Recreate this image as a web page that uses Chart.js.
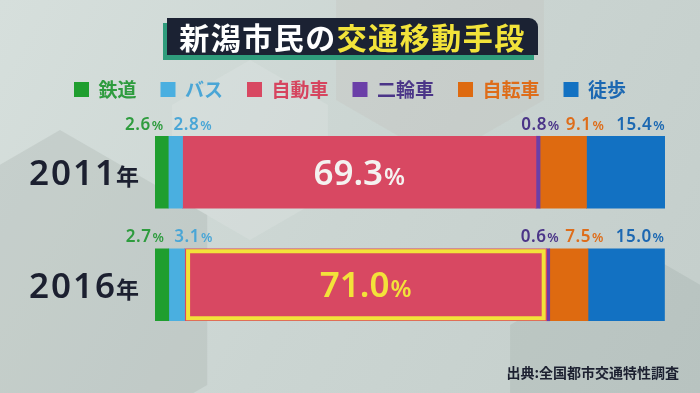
<!DOCTYPE html>
<html lang="ja">
<head>
<meta charset="utf-8">
<script src="https://cdn.jsdelivr.net/npm/chart.js@4.4.1/dist/chart.umd.min.js"></script>
<style>
  html, body { margin: 0; padding: 0; }
  body { width: 700px; height: 393px; overflow: hidden; background: #cbd5d2; font-family: "Noto Sans CJK JP", "Noto Sans", sans-serif; }
  #wrap { position: relative; width: 700px; height: 393px; }
  #chart { position: absolute; left: 0; top: 0; }
  .title {
    position: absolute; left: 167px; top: 18px; width: 371px; height: 37px;
    background: #1b2233; border-radius: 0 9px 0 0; box-shadow: -4px 5px 0 #2f9c7c;
    color: #fff; font-weight: 700; font-size: 30px; line-height: 37px; text-align: center; white-space: nowrap;
    letter-spacing: 1.5px;
  }
  .title span { color: #f2e33a; }
  .source { position: absolute; right: 21px; top: 362px; font-size: 14px; font-weight: 700; color: #1c2030; }
</style>
</head>
<body>
<div id="wrap">
  <canvas id="chart" width="700" height="393"></canvas>
  <div class="title">新潟市民の<span>交通移動手段</span></div>
  <div class="source">出典:全国都市交通特性調査</div>
</div>
<script>
const years = ['2011年', '2016年'];
const modes = ['鉄道', 'バス', '自動車', '二輪車', '自転車', '徒歩'];
const share2011 = [2.6, 2.8, 69.3, 0.8, 9.1, 15.4];
const share2016 = [2.7, 3.1, 71.0, 0.6, 7.5, 15.0];

const barColors = ['#1f9e2f', '#4aafe0', '#d84862', '#6b3fa8', '#de6a10', '#1271c2'];
const textColors = ['#2e9c3e', '#4aa6d6', '#d6455f', '#4b3588', '#de6d1a', '#1c68b2'];
const bigIndex = 2;       // 自動車 gets the big label inside the bar
const highlightYear = 1;  // 2016 car share framed in yellow

const chartNode = document.querySelector('#chart');

// light backdrop with a few soft hexagons
const backdrop = {
    id: 'backdrop',
    beforeDraw(chart) {
        const ctx = chart.ctx;
        ctx.save();
        const g = ctx.createLinearGradient(0, 0, 700, 393);
        g.addColorStop(0, '#d6dfdc');
        g.addColorStop(0.5, '#cbd5d2');
        g.addColorStop(1, '#c4cecb');
        ctx.fillStyle = g;
        ctx.fillRect(0, 0, 700, 393);
        const hex = (cx, cy, r, color) => {
            ctx.beginPath();
            for (let k = 0; k < 6; k++) {
                const a = Math.PI / 6 + k * Math.PI / 3;
                const px = cx + r * Math.cos(a), py = cy + r * Math.sin(a);
                k ? ctx.lineTo(px, py) : ctx.moveTo(px, py);
            }
            ctx.closePath();
            ctx.fillStyle = color;
            ctx.fill();
        };
        hex(60, 300, 170, 'rgba(150,160,157,0.22)');
        hex(440, 40, 120, 'rgba(190,180,170,0.18)');
        hex(640, 400, 150, 'rgba(140,155,150,0.2)');
        hex(250, 150, 90, 'rgba(255,255,255,0.12)');
        ctx.restore();
    }
};

// push the plot area a bit further below the legend
const legendGap = {
    id: 'legendGap',
    beforeInit(chart) {
        const fit = chart.legend.fit;
        chart.legend.fit = function () {
            fit.call(this);
            this.height += 7;
        };
    }
};

const pctWidth = (ctx, num, font, small) => {
    ctx.font = font;
    const a = ctx.measureText(num).width;
    ctx.font = small;
    return [a, ctx.measureText('%').width];
};

const drawPct = (ctx, num, left, base, font, small, color) => {
    const [a] = pctWidth(ctx, num, font, small);
    ctx.fillStyle = color;
    ctx.textAlign = 'left';
    ctx.textBaseline = 'alphabetic';
    ctx.font = font;
    ctx.fillText(num, left, base);
    ctx.font = small;
    ctx.fillText('%', left + a + 1, base);
};

const valueLabels = {
    id: 'valueLabels',
    afterDatasetsDraw(chart) {
        const ctx = chart.ctx;
        const sFont = '600 17px "Noto Sans", sans-serif';
        const sSmall = '600 13px "Noto Sans", sans-serif';
        const bFont = '600 35px "Noto Sans", sans-serif';
        const bSmall = '600 24px "Noto Sans", sans-serif';
        ctx.save();
        years.forEach((yr, j) => {
            const segs = chart.data.datasets.map((ds, i) => {
                const el = chart.getDatasetMeta(i).data[j];
                const p = el.getProps(['x', 'y', 'base', 'height'], true);
                return {
                    i, value: ds.data[j].toFixed(1),
                    start: Math.min(p.base, p.x), end: Math.max(p.base, p.x),
                    top: p.y - p.height / 2, bottom: p.y + p.height / 2, y: p.y
                };
            });
            const top = segs[0].top;
            const base = top - 6.5;

            // yellow frame
            if (j === highlightYear) {
                const s = segs[bigIndex];
                ctx.strokeStyle = '#f3e23a';
                ctx.lineWidth = 4;
                ctx.strokeRect(s.start + 3.5, s.top + 2.5, s.end - s.start - 6.5, s.bottom - s.top - 5);
            }

            // big label
            const s = segs[bigIndex];
            const [a, b] = pctWidth(ctx, s.value, bFont, bSmall);
            drawPct(ctx, s.value, (s.start + s.end) / 2 - (a + b + 1) / 2, s.y + 12.5,
                bFont, bSmall, j === highlightYear ? '#f3e23a' : '#f4f2f0');

            // small labels, a little spaced out
            ctx.letterSpacing = '0.5px';

            // left group: spread around the mean segment centre
            const left = segs.slice(0, bigIndex);
            const gap = 10;
            const widths = left.map(q => { const w = pctWidth(ctx, q.value, sFont, sSmall); return w[0] + w[1] + 1; });
            const mean = left.reduce((t, q) => t + (q.start + q.end) / 2, 0) / left.length;
            let x = mean - (widths.reduce((t, w) => t + w, 0) + gap * (left.length - 1)) / 2;
            left.forEach((q, k) => {
                drawPct(ctx, q.value, x, base, sFont, sSmall, textColors[q.i]);
                x += widths[k] + gap;
            });

            // right group: packed from the bar end
            const right = segs.slice(bigIndex + 1).reverse();
            let r = segs[segs.length - 1].end;
            right.forEach((q, k) => {
                const w = pctWidth(ctx, q.value, sFont, sSmall);
                const wt = w[0] + w[1] + 1;
                drawPct(ctx, q.value, r - wt, base, sFont, sSmall, textColors[q.i]);
                r -= wt + (k === 0 ? 12 : 6);
            });

            // year label
            const yl = chart.scales.y;
            const cy = yl.getPixelForValue(j);
            ctx.fillStyle = '#1c2030';
            ctx.textAlign = 'right';
            ctx.letterSpacing = '0px';
            ctx.font = '700 23px "Noto Sans CJK JP", sans-serif';
            ctx.fillText(yr.slice(-1), 139, cy + 13);
            ctx.letterSpacing = '2px';
            ctx.font = '600 35px "Noto Sans", sans-serif';
            ctx.fillText(yr.slice(0, -1), 117, cy + 13);
            ctx.letterSpacing = '0px';
        });
        ctx.restore();
    }
};

const chart = new Chart(chartNode, {
    type: 'bar',
    data: {
        labels: years,
        datasets: modes.map((m, i) => ({
            label: m,
            data: [share2011[i], share2016[i]],
            backgroundColor: barColors[i],
            borderWidth: 0,
            barThickness: 72
        }))
    },
    options: {
        indexAxis: 'y',
        responsive: false,
        animation: false,
        layout: {
            padding: { top: 56, bottom: 52, left: 0, right: 0 }
        },
        scales: {
            x: { stacked: true, min: 0, max: 100, display: false },
            y: {
                stacked: true,
                grid: { display: false },
                border: { display: false },
                ticks: { display: false },
                afterFit(s) { s.width = 155; }
            },
            y2: {
                type: 'category',
                position: 'right',
                grid: { display: false },
                border: { display: false },
                ticks: { display: false },
                afterFit(s) { s.width = 35; }
            }
        },
        plugins: {
            tooltip: { enabled: false },
            legend: {
                position: 'top',
                labels: {
                    boxWidth: 15,
                    boxHeight: 15,
                    padding: 24,
                    font: { family: '"Noto Sans CJK JP", sans-serif', size: 19, weight: '700' },
                    generateLabels(chart) {
                        return chart.data.datasets.map((ds, i) => ({
                            text: ds.label,
                            fillStyle: ds.backgroundColor,
                            strokeStyle: ds.backgroundColor,
                            lineWidth: 0,
                            fontColor: textColors[i],
                            datasetIndex: i,
                            hidden: false
                        }));
                    }
                }
            }
        }
    },
    plugins: [backdrop, legendGap, valueLabels]
});
</script>
</body>
</html>
